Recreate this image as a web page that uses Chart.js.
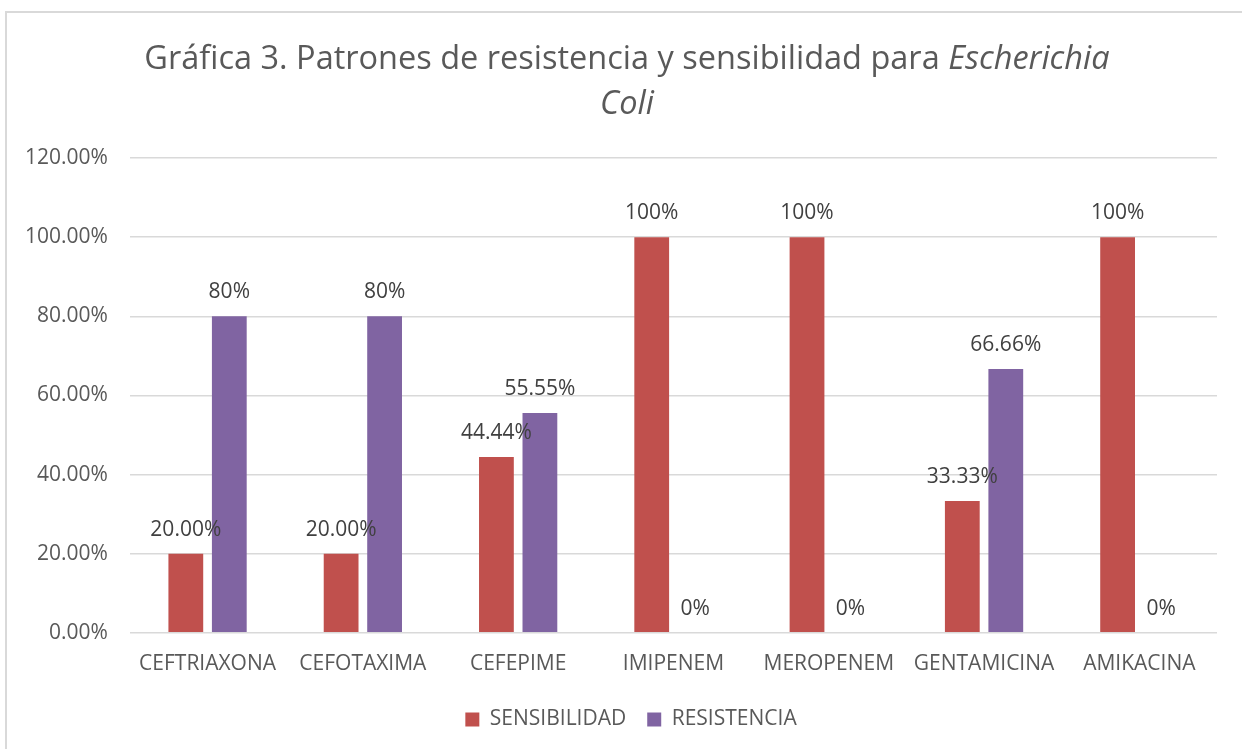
<!DOCTYPE html>
<html>
<head>
<meta charset="utf-8">
<script src="https://cdn.jsdelivr.net/npm/chart.js@4/dist/chart.umd.min.js"></script>
<style>
  html, body { margin: 0; padding: 0; background: #fff; }
  #wrap { position: relative; width: 1242px; height: 749px; overflow: hidden; }
  #frame { position: absolute; left: 5px; top: 11px; width: 1300px; height: 800px;
    border-left: 2px solid #d9d9d9; border-top: 2px solid #d9d9d9; }
  #chart { position: absolute; left: 0; top: 0; }
</style>
</head>
<body>
<div id="wrap">
  <div id="frame"></div>
  <canvas id="chart" width="1242" height="749"></canvas>
</div>
<script>
const categories = ['CEFTRIAXONA', 'CEFOTAXIMA', 'CEFEPIME', 'IMIPENEM', 'MEROPENEM', 'GENTAMICINA', 'AMIKACINA'];
const sensibilidad = [20, 20, 44.44, 100, 100, 33.33, 100];
const resistencia = [80, 80, 55.55, 0, 0, 66.66, 0];
const sensibilidadLabels = ['20.00%', '20.00%', '44.44%', '100%', '100%', '33.33%', '100%'];
const resistenciaLabels = ['80%', '80%', '55.55%', '0%', '0%', '66.66%', '0%'];
const yTicks = [0, 20, 40, 60, 80, 100, 120];

const FONT = '"Open Sans", "DejaVu Sans", sans-serif';

// title with the species name in italics, drawn in two centred lines
const titlePlugin = {
  id: 'mixedTitle',
  afterDraw(chart) {
    const ctx = chart.ctx;
    const cx = chart.width / 2 + 6;
    const normalFont = '32.5px ' + FONT;
    const italicFont = 'italic 32.5px ' + FONT;
    const part1 = 'Gráfica 3. Patrones de resistencia y sensibilidad para ';
    const part2 = 'Escherichia';
    ctx.save();
    ctx.fillStyle = '#595959';
    ctx.textBaseline = 'middle';
    ctx.textAlign = 'left';
    ctx.font = normalFont;
    const w1 = ctx.measureText(part1).width;
    ctx.font = italicFont;
    const w2 = ctx.measureText(part2).width;
    let x = cx - (w1 + w2) / 2;
    ctx.font = normalFont;
    ctx.fillText(part1, x, 60);
    ctx.font = italicFont;
    ctx.fillText(part2, x + w1, 60);
    ctx.textAlign = 'center';
    ctx.fillText('Coli', cx, 105);
    ctx.restore();
  }
};

// value labels above each bar
const valueLabels = {
  id: 'valueLabels',
  afterDatasetsDraw(chart) {
    const ctx = chart.ctx;
    const texts = [sensibilidadLabels, resistenciaLabels];
    ctx.save();
    ctx.font = '21px ' + FONT;
    ctx.fillStyle = '#404040';
    ctx.textAlign = 'center';
    ctx.textBaseline = 'middle';
    chart.data.datasets.forEach((ds, i) => {
      chart.getDatasetMeta(i).data.forEach((bar, j) => {
        ctx.fillText(texts[i][j], bar.x, bar.y - 24);
      });
    });
    ctx.restore();
  }
};

// nudge the legend a little to the right, as in the original
const legendShift = {
  id: 'legendShift',
  afterLayout(chart) {
    if (chart.legend) {
      chart.legend.left += 21;
      chart.legend.right += 21;
    }
  }
};

new Chart(document.getElementById('chart'), {
  type: 'bar',
  data: {
    labels: categories,
    datasets: [
      {
        label: 'SENSIBILIDAD',
        data: sensibilidad,
        backgroundColor: '#c0504d',
        categoryPercentage: 0.56,
        barPercentage: 0.8
      },
      {
        label: 'RESISTENCIA',
        data: resistencia,
        backgroundColor: '#8064a2',
        categoryPercentage: 0.56,
        barPercentage: 0.8
      }
    ]
  },
  options: {
    responsive: false,
    animation: false,
    layout: { padding: { top: 158, left: 3, right: 25, bottom: 9 } },
    scales: {
      y: {
        min: 0,
        max: 120,
        afterBuildTicks: (axis) => { axis.ticks = yTicks.map(v => ({ value: v })); },
        ticks: {
          callback: (v) => v.toFixed(2) + '%',
          color: '#595959',
          font: { family: FONT, size: 21 },
          padding: 22
        },
        grid: { color: '#d9d9d9', lineWidth: 1.5, drawTicks: false },
        border: { display: false }
      },
      x: {
        ticks: {
          color: '#595959',
          font: { family: FONT, size: 21 },
          padding: 11,
          maxRotation: 0
        },
        grid: { display: false },
        border: { display: false }
      }
    },
    plugins: {
      title: { display: false },
      tooltip: { enabled: false },
      legend: {
        position: 'bottom',
        labels: {
          boxWidth: 14,
          boxHeight: 14,
          color: '#595959',
          font: { family: FONT, size: 21 },
          padding: 21
        }
      }
    }
  },
  plugins: [titlePlugin, valueLabels, legendShift]
});
</script>
</body>
</html>
